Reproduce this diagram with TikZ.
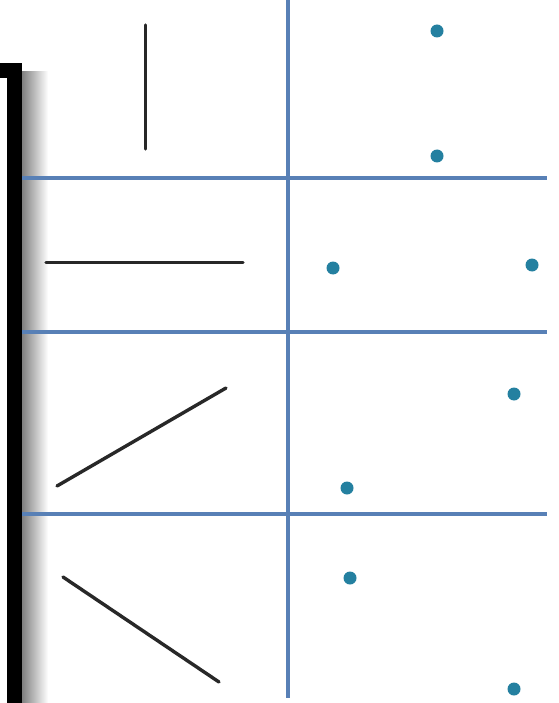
\documentclass[tikz,border=0pt]{standalone}
\definecolor{gridblue}{RGB}{88,128,182}
\definecolor{dotteal}{RGB}{36,128,160}
\definecolor{stroke}{RGB}{40,40,40}
\tikzset{
  gridline/.style={draw=gridblue, line width=3.4pt},
  seg/.style={draw=stroke, line width=3.4pt, line cap=round},
  dot/.style={circle, fill=dotteal, inner sep=0pt, minimum size=13pt}
}
\begin{document}
\begin{tikzpicture}[x=1pt,y=-1pt]
\useasboundingbox (0,0) rectangle (558,703);
\fill[white] (0,0) rectangle (558,703);
% shadow of the frame
\shade[left color=black!50, right color=white] (22,72) rectangle (48,703);
% grid
\draw[gridline] (288,0) -- (288,698);
\draw[gridline] (22,178) -- (547,178);
\draw[gridline] (22,332) -- (547,332);
\draw[gridline] (22,514) -- (547,514);
% black frame
\fill[black] (0,63) rectangle (22,78);
\fill[black] (7,63) rectangle (22,703);
% segments
\draw[seg] (145.5,25) -- (145.5,149);
\draw[seg] (46,262.5) -- (243,262.5);
\draw[seg] (57,486) -- (226,388);
\draw[seg] (63,577) -- (219,682);
% points
\node[dot] (p1a) at (437,31) {};
\node[dot] (p1b) at (437,156) {};
\node[dot] (p2a) at (333,268) {};
\node[dot] (p2b) at (532,265) {};
\node[dot] (p3a) at (514,394) {};
\node[dot] (p3b) at (347,488) {};
\node[dot] (p4a) at (350,578) {};
\node[dot] (p4b) at (514,689) {};
\end{tikzpicture}
\end{document}
